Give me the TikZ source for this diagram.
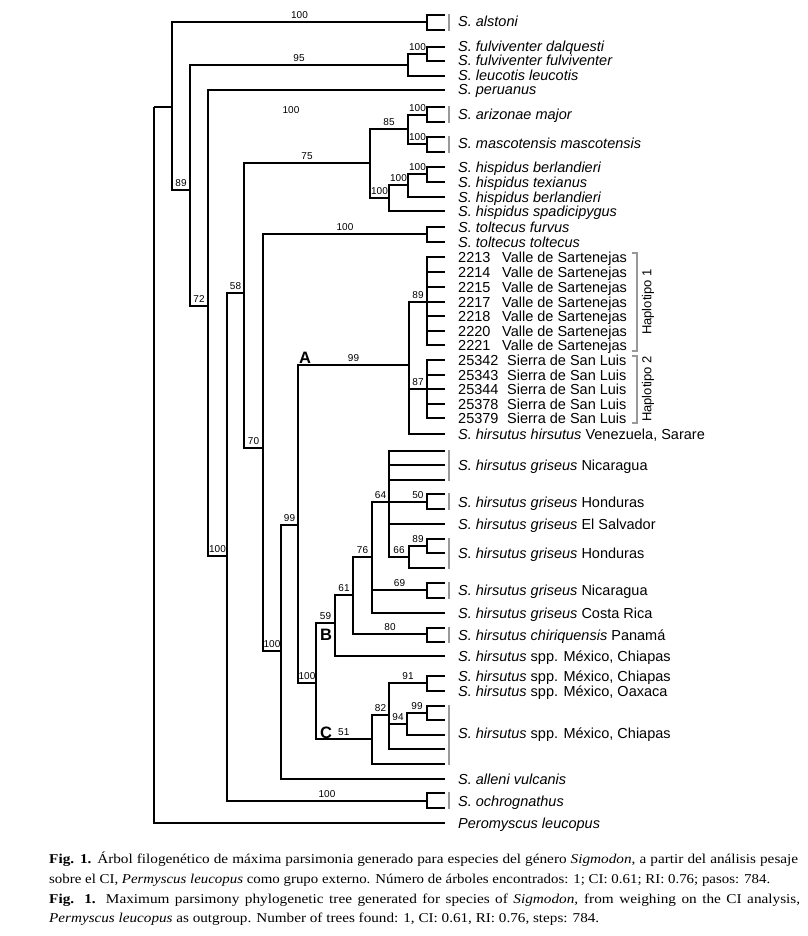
\documentclass[tikz,border=0pt]{standalone}
\usepackage{fontspec}
\usepackage{graphicx}
\setmainfont{Liberation Sans}
\newfontfamily\capfont{Liberation Serif}[FakeStretch=1.13]
\newcommand\tedge[2]{\draw[tree] (#1) |- (#2);}
\newcommand\tlab[4][.75]{\draw[tree] (#2) |- node[sup,pos=#1] (s-#3) {#4} (#3);}
\newcommand\tleaves[2]{\foreach \yy [count=\k] in {#2}{\coordinate (#1-\k) at (445,\yy); \draw[tree] (#1) |- (#1-\k);}}
\begin{document}
\begin{tikzpicture}[x=1pt,y=-1pt,
  tree/.style={line width=1.3pt, black},
  sup/.style={font=\fontsize{10}{10}\selectfont, inner sep=0pt, anchor=south, yshift=2.4pt},
  lbl/.style={font=\fontsize{14.5}{14.5}\selectfont, inner sep=0pt, anchor=base west},
  gbar/.style={line width=1.2pt, black!40},
  cladel/.style={font=\bfseries\fontsize{16.5}{16.5}\selectfont, inner sep=0pt},
  captext/.style={font=\capfont\fontsize{13.5}{13.5}\selectfont, inner sep=0pt, anchor=base west}]
\fill[white] (0,0) rectangle (807,936);
\useasboundingbox (0,0) rectangle (807,936);
% ---- internal nodes
\coordinate (R) at (154,107);
\coordinate (a) at (172,107);
\coordinate (alst) at (427,22);
\coordinate (b) at (190,190);
\coordinate (fulv) at (408,65);
\coordinate (fd) at (427,54);
\coordinate (leuc) at (445,76);
\coordinate (c) at (208,306);
\coordinate (peru) at (445,90);
\coordinate (d) at (227,556);
\coordinate (e) at (244,293);
\coordinate (f) at (370,163);
\coordinate (h) at (408,129);
\coordinate (arz) at (427,115);
\coordinate (masc) at (427,144);
\coordinate (i) at (389,198);
\coordinate (j) at (408,185);
\coordinate (k) at (427,174);
\coordinate (hb2) at (445,197);
\coordinate (spad) at (445,211);
\coordinate (g) at (263,448);
\coordinate (tolt) at (427,234);
\coordinate (m) at (281,651);
\coordinate (n) at (298,525);
\coordinate (A) at (409,365);
\coordinate (hA) at (427,302);
\coordinate (hB) at (427,389);
\coordinate (hh) at (445,434);
\coordinate (alleni) at (445,779);
\coordinate (o) at (316,683);
\coordinate (B) at (335,623);
\coordinate (C) at (372,739);
\coordinate (sppch) at (445,656);
\coordinate (p) at (353,595);
\coordinate (chir) at (427,634);
\coordinate (q) at (372,557);
\coordinate (r) at (389,502);
\coordinate (hon1) at (427,502);
\coordinate (els) at (445,524);
\coordinate (s) at (409,557);
\coordinate (hon2) at (427,546);
\coordinate (sl) at (445,568);
\coordinate (nic2) at (427,590);
\coordinate (cr) at (445,613);
\coordinate (t) at (389,715);
\coordinate (u) at (427,683);
\coordinate (v) at (407,724);
\coordinate (w) at (427,713);
\coordinate (vl) at (445,735);
\coordinate (tl) at (445,749);
\coordinate (cl) at (445,764);
\coordinate (ochro) at (427,801);
\coordinate (pero) at (445,823);
% ---- branches
\tedge{R}{a}
\tedge{R}{pero}
\tlab{a}{alst}{100}
\tleaves{alst}{15,30}
\tlab{a}{b}{89}
\tlab{b}{fulv}{95}
\tlab{fulv}{fd}{100}
\tleaves{fd}{47,61}
\tedge{fulv}{leuc}
\tlab{b}{c}{72}
\tedge{c}{peru}
\tlab{c}{d}{100}
\tlab{d}{e}{58}
\tlab{d}{ochro}{100}
\tleaves{ochro}{793,808}
\tlab{e}{f}{75}
\tlab{f}{h}{85}
\tlab{h}{arz}{100}
\tleaves{arz}{107,122}
\tlab{h}{masc}{100}
\tleaves{masc}{137,152}
\tlab{f}{i}{100}
\tlab{i}{j}{100}
\tlab{j}{k}{100}
\tleaves{k}{167,182}
\tedge{j}{hb2}
\tedge{i}{spad}
\tlab{e}{g}{70}
\tlab{g}{tolt}{100}
\tleaves{tolt}{227,242}
\tlab{g}{m}{100}
\tlab{m}{n}{99}
\tedge{m}{alleni}
\tlab{n}{A}{99}
\tlab{A}{hA}{89}
\tleaves{hA}{257,272,287,302,316,331,345}
\tlab{A}{hB}{87}
\tleaves{hB}{360,375,389,404,418}
\tedge{A}{hh}
\tlab{n}{o}{100}
\tlab{o}{B}{59}
\tedge{o}{C}
\tlab{B}{p}{61}
\tedge{B}{sppch}
\tlab{p}{q}{76}
\tlab{p}{chir}{80}
\tleaves{chir}{628,642}
\tlab{q}{r}{64}
\tlab{q}{nic2}{69}
\tleaves{nic2}{583,598}
\tedge{q}{cr}
\tleaves{r}{451,465,480}
\tlab[.88]{r}{hon1}{50}
\tleaves{hon1}{494,509}
\tedge{r}{els}
\tlab{r}{s}{66}
\tlab{s}{hon2}{89}
\tleaves{hon2}{539,553}
\tedge{s}{sl}
\tlab{C}{t}{82}
\tedge{C}{cl}
\tlab{t}{u}{91}
\tleaves{u}{676,691}
\tlab{t}{v}{94}
\tedge{t}{tl}
\tlab{v}{w}{99}
\tleaves{w}{706,720}
\tedge{v}{vl}
% ---- extra labels
\node[sup, anchor=base, yshift=0pt] (float100) at (291,116) {100};
\node[cladel, anchor=base west] (labA) at (299,363) {A};
\node[cladel, anchor=base] (labB) at (326,640) {B};
\node[cladel, anchor=base west] (labC) at (320,738) {C};
\node[sup, anchor=base west, yshift=0pt] (s-C) at (338,738) {51};
% ---- grey bars for collapsed groups
\foreach \ya/\yb in {14/31,106/123,136/153,450/481,493/510,538/569,582/599,627/643,705/765,792/809}
  {\draw[gbar] (449,\ya) -- (449,\yb);}
\draw[gbar] (632,253) -- (637,253) -- (637,351) -- (632,351);
\draw[gbar] (632,356) -- (637,356) -- (637,423) -- (632,423);
\node[font=\fontsize{13}{13}\selectfont, rotate=90, inner sep=0pt] (hap1) at (648,302) {Haplotipo 1};
\node[font=\fontsize{13}{13}\selectfont, rotate=90, inner sep=0pt] (hap2) at (648,389) {Haplotipo 2};
% ---- taxon labels
\node[lbl] (t1) at (458,27) {\textit{S. alstoni}};
\node[lbl] (t2) at (458,52) {\textit{S. fulviventer dalquesti}};
\node[lbl] (t3) at (458,66) {\textit{S. fulviventer fulviventer}};
\node[lbl] (t4) at (458,81) {\textit{S. leucotis leucotis}};
\node[lbl] (t5) at (458,95) {\textit{S. peruanus}};
\node[lbl] (t6) at (458,120) {\textit{S. arizonae major}};
\node[lbl] (t7) at (458,149) {\textit{S. mascotensis mascotensis}};
\node[lbl] (t8) at (458,172) {\textit{S. hispidus berlandieri}};
\node[lbl] (t9) at (458,187) {\textit{S. hispidus texianus}};
\node[lbl] (t10) at (458,202) {\textit{S. hispidus berlandieri}};
\node[lbl] (t11) at (458,216) {\textit{S. hispidus spadicipygus}};
\node[lbl] (t12) at (458,232) {\textit{S. toltecus furvus}};
\node[lbl] (t13) at (458,247) {\textit{S. toltecus toltecus}};
\foreach \num/\yy [count=\k] in {2213/257,2214/272,2215/287,2217/302,2218/316,2220/331,2221/345}
  {\node[lbl] (va\k) at (458,\yy+5) {\makebox[44pt][l]{\num}Valle de Sartenejas};}
\foreach \num/\yy [count=\k] in {25342/360,25343/375,25344/389,25378/404,25379/418}
  {\node[lbl] (sl\k) at (458,\yy+5) {\makebox[49pt][l]{\num}Sierra de San Luis};}
\node[lbl] (t14) at (458,439) {\textit{S. hirsutus hirsutus} Venezuela, Sarare};
\node[lbl] (t15) at (458,470) {\textit{S. hirsutus griseus} Nicaragua};
\node[lbl] (t16) at (458,507) {\textit{S. hirsutus griseus} Honduras};
\node[lbl] (t17) at (458,529) {\textit{S. hirsutus griseus} El Salvador};
\node[lbl] (t18) at (458,558) {\textit{S. hirsutus griseus} Honduras};
\node[lbl] (t19) at (458,595) {\textit{S. hirsutus griseus} Nicaragua};
\node[lbl] (t20) at (458,618) {\textit{S. hirsutus griseus} Costa Rica};
\node[lbl] (t21) at (458,640) {\textit{S. hirsutus chiriquensis} Panamá};
\node[lbl] (t22) at (458,661) {\textit{S. hirsutus} spp. México, Chiapas};
\node[lbl] (t23) at (458,681) {\textit{S. hirsutus} spp. México, Chiapas};
\node[lbl] (t24) at (458,696) {\textit{S. hirsutus} spp. México, Oaxaca};
\node[lbl] (t25) at (458,738) {\textit{S. hirsutus} spp. México, Chiapas};
\node[lbl] (t26) at (458,784) {\textit{S. alleni vulcanis}};
\node[lbl] (t27) at (458,806) {\textit{S. ochrognathus}};
\node[lbl] (t28) at (458,828) {\textit{Peromyscus leucopus}};
% ---- caption
\node[captext] (cap1) at (49,863.5) {\makebox[749pt][s]{\textbf{Fig. 1.} Árbol filogenético de máxima parsimonia generado para especies del género \textit{Sigmodon}, a partir del análisis pesaje}};
\node[captext] (cap2) at (49,883.5) {\resizebox{721pt}{\height}{sobre el CI, \textit{Permyscus leucopus} como grupo externo. Número de árboles encontrados: 1; CI: 0.61; RI: 0.76; pasos: 784.}};
\node[captext] (cap3) at (49,903) {\makebox[751pt][s]{\textbf{Fig. 1.} Maximum parsimony phylogenetic tree generated for species of \textit{Sigmodon}, from weighing on the CI analysis,}};
\node[captext] (cap4) at (49,922) {\resizebox{550pt}{\height}{\textit{Permyscus leucopus} as outgroup. Number of trees found: 1, CI: 0.61, RI: 0.76, steps: 784.}};
\end{tikzpicture}
\end{document}
